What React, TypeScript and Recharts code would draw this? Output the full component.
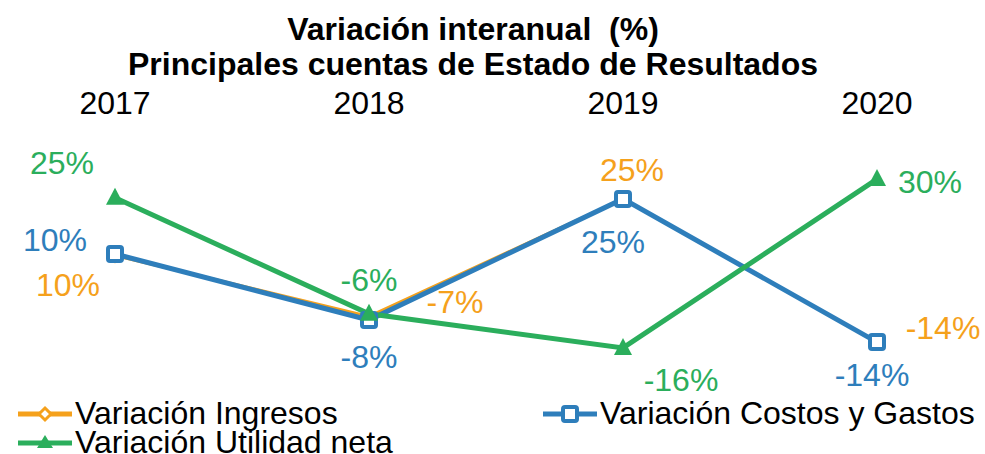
import { LineChart, Line, XAxis, YAxis, LabelList } from 'recharts'

const years = ['2017', '2018', '2019', '2020']
const ingresos = [9.6, -7, 25, -14]
const costos = [10, -8, 25, -14]
const utilidad = [25.3, -6.3, -15.6, 30.4]

const ORANGE = '#F5A11C'
const BLUE = '#2E7EBB'
const GREEN = '#2BAE5C'
const FONT = 'Liberation Sans, Arial, sans-serif'

// label placement relative to each point (style only)
const ingresosOffsets = [[-47, 30], [86, -14], [9, -29], [66, -14]]
const costosOffsets = [[-60, -14], [0, 37], [-10, 43], [-5, 33]]
const utilidadOffsets = [[-53, -35], [0, -34], [58, 32], [53, 3]]

const data = years.map((year, i) => ({
  year,
  ingresos: ingresos[i],
  costos: costos[i],
  utilidad: utilidad[i],
}))

const pct = (v: number) => `${Math.round(v)}%`

function makeLabel(color: string, offsets: number[][]) {
  return (props: any) => {
    const { x, y, value, index } = props
    const [dx, dy] = offsets[index] || [0, 0]
    return (
      <text
        x={x + dx}
        y={y + dy}
        textAnchor="middle"
        dominantBaseline="central"
        fill={color}
        fontSize={32}
        fontFamily={FONT}
      >
        {pct(value)}
      </text>
    )
  }
}

const DiamondDot = (props: any) => {
  const { cx, cy } = props
  const r = 6
  return (
    <path
      d={`M${cx},${cy - r}L${cx + r},${cy}L${cx},${cy + r}L${cx - r},${cy}Z`}
      fill="#fff"
      stroke={ORANGE}
      strokeWidth={3}
    />
  )
}

const SquareDot = (props: any) => {
  const { cx, cy } = props
  return (
    <rect x={cx - 7} y={cy - 7} width={14} height={14} rx={2} fill="#fff" stroke={BLUE} strokeWidth={4} />
  )
}

const TriangleDot = (props: any) => {
  const { cx, cy } = props
  return (
    <path d={`M${cx},${cy - 10}L${cx + 9},${cy + 7}L${cx - 9},${cy + 7}Z`} fill={GREEN} />
  )
}

const YearTick = (props: any) => {
  const { x, y, payload } = props
  return (
    <text x={x} y={y + 2} textAnchor="middle" fontSize={32} fontFamily={FONT} fill="#000">
      {payload.value}
    </text>
  )
}

function LegendItem({ color, label, marker }: { color: string; label: string; marker: 'diamond' | 'square' | 'triangle' }) {
  return (
    <div style={{ display: 'flex', alignItems: 'center', height: 29 }}>
      <svg width={56} height={24} style={{ marginRight: 1 }}>
        <line x1={0} y1={12} x2={54} y2={12} stroke={color} strokeWidth={5} />
        {marker === 'diamond' && (
          <path d="M27,6L33,12L27,18L21,12Z" fill="#fff" stroke={color} strokeWidth={3} />
        )}
        {marker === 'square' && (
          <rect x={20} y={5} width={14} height={14} rx={2} fill="#fff" stroke={color} strokeWidth={4} />
        )}
        {marker === 'triangle' && <path d="M27,4L35,17L19,17Z" fill={color} />}
      </svg>
      <span style={{ fontSize: 32, fontFamily: FONT, color: '#000', whiteSpace: 'nowrap' }}>{label}</span>
    </div>
  )
}

export default function App() {
  return (
    <div style={{ position: 'absolute', left: 0, top: 0, width: 985, height: 454, background: '#fff', overflow: 'hidden' }}>
      <div
        style={{
          position: 'absolute',
          left: 0,
          top: 12,
          width: 946,
          textAlign: 'center',
          fontFamily: FONT,
          fontWeight: 'bold',
          fontSize: 32,
          lineHeight: '35px',
          color: '#000',
        }}
      >
        <div>Variación interanual&nbsp; (%)</div>
        <div>Principales cuentas de Estado de Resultados</div>
      </div>
      <div style={{ position: 'absolute', left: 0, top: 0 }}>
        <LineChart width={985} height={454} data={data} margin={{ top: 0, right: 0, bottom: 64, left: 0 }}>
          <XAxis
            dataKey="year"
            orientation="top"
            height={120}
            axisLine={false}
            tickLine={false}
            padding={{ left: 115, right: 108 }}
            tick={<YearTick />}
            interval={0}
          />
          <YAxis hide domain={[-27.06, 46.5]} />
          <Line
            dataKey="ingresos"
            stroke={ORANGE}
            strokeWidth={3}
            dot={<DiamondDot />}
            isAnimationActive={false}
          >
            <LabelList dataKey="ingresos" content={makeLabel(ORANGE, ingresosOffsets)} />
          </Line>
          <Line
            dataKey="costos"
            stroke={BLUE}
            strokeWidth={5}
            dot={<SquareDot />}
            isAnimationActive={false}
          >
            <LabelList dataKey="costos" content={makeLabel(BLUE, costosOffsets)} />
          </Line>
          <Line
            dataKey="utilidad"
            stroke={GREEN}
            strokeWidth={5}
            dot={<TriangleDot />}
            isAnimationActive={false}
          >
            <LabelList dataKey="utilidad" content={makeLabel(GREEN, utilidadOffsets)} />
          </Line>
        </LineChart>
      </div>
      <div style={{ position: 'absolute', left: 18, top: 399 }}>
        <LegendItem color={ORANGE} label="Variación Ingresos" marker="diamond" />
        <LegendItem color={GREEN} label="Variación Utilidad neta" marker="triangle" />
      </div>
      <div style={{ position: 'absolute', left: 543, top: 399 }}>
        <LegendItem color={BLUE} label="Variación Costos y Gastos" marker="square" />
      </div>
    </div>
  )
}
